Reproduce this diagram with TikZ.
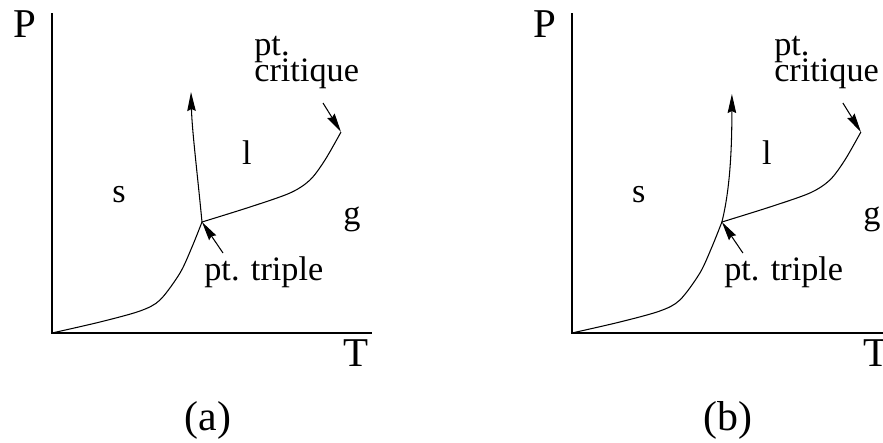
\documentclass[tikz,border=0pt]{standalone}
\usepackage{fontspec}
\setmainfont{LiberationSerif}[Extension=.ttf,UprightFont=*-Regular]
\usetikzlibrary{arrows.meta}
\tikzset{
  axisline/.style={line width=1.2pt,draw=black},
  phaseline/.style={line width=0.6pt,draw=black},
  phasearrow/.style={-{Stealth[length=0.38cm,width=0.17cm,inset=0.04cm]},
    line width=0.6pt,draw=black},
  axislabel/.style={font=\fontsize{23.3}{26}\selectfont,inner sep=0pt},
  phaselabel/.style={font=\fontsize{19.5}{22}\selectfont,inner sep=0pt},
  captionlabel/.style={font=\fontsize{23.8}{26}\selectfont,inner sep=0pt},
}

\begin{document}
\begin{tikzpicture}[x=0.02cm,y=-0.02cm]
  \useasboundingbox (0,0) rectangle (883,443);
  \clip (0,0) rectangle (883,443);
  % (a)
  \coordinate (a-top) at (52,13);
  \coordinate (a-O) at (52,333);
  \coordinate (a-end) at (372,333);
  \coordinate (a-tp) at (202,222);
  \coordinate (a-cp) at (341,132);
  \coordinate (a-melt) at (191,92);
  \coordinate (a-tpfrom) at (223,253);
  \coordinate (a-cpfrom) at (323,103);
  \draw[axisline] (a-top) -- (a-O) -- (a-end);
  \node[axislabel] (a-P) at (25,24) {P};
  \node[axislabel] (a-T) at (356,353) {T};
  \draw[phaseline] plot[smooth] coordinates
    {(a-O) (100,322) (140,311) (160,300) (180,273) (192,247) (a-tp)};
  \draw[phaseline] plot[smooth] coordinates
    {(a-tp) (250,207) (290,193) (310,180) (325,160) (a-cp)};
  \draw[phasearrow] (a-tp) .. controls (197,170) and (192,130) .. (a-melt);
  \draw[phasearrow] (a-tpfrom) -- (a-tp);
  \draw[phasearrow] (a-cpfrom) -- (a-cp);
  \node[phaselabel] (a-s) at (119,195) {s};
  \node[phaselabel] (a-l) at (247,153) {l};
  \node[phaselabel] (a-g) at (352,219) {g};
  \node[phaselabel,anchor=base west] (a-triple) at (204,280) {pt. triple};
  \node[phaselabel,anchor=base west] (a-pt) at (254,55) {pt.};
  \node[phaselabel,anchor=base west] (a-crit) at (254,81) {critique};
  \node[captionlabel] (a-cap) at (208,420) {(a)};
  % (b)
  \begin{scope}[xshift=10.4cm]
  \coordinate (b-top) at (52,13);
  \coordinate (b-O) at (52,333);
  \coordinate (b-end) at (372,333);
  \coordinate (b-tp) at (202,222);
  \coordinate (b-cp) at (341,132);
  \coordinate (b-melt) at (212,94);
  \coordinate (b-tpfrom) at (223,253);
  \coordinate (b-cpfrom) at (323,103);
  \draw[axisline] (b-top) -- (b-O) -- (b-end);
  \node[axislabel] (b-P) at (25,24) {P};
  \node[axislabel] (b-T) at (356,353) {T};
  \draw[phaseline] plot[smooth] coordinates
    {(b-O) (100,322) (140,311) (160,300) (180,273) (192,247) (b-tp)};
  \draw[phaseline] plot[smooth] coordinates
    {(b-tp) (250,207) (290,193) (310,180) (325,160) (b-cp)};
  \draw[phasearrow] (b-tp) .. controls (210,190) and (212,150) .. (b-melt);
  \draw[phasearrow] (b-tpfrom) -- (b-tp);
  \draw[phasearrow] (b-cpfrom) -- (b-cp);
  \node[phaselabel] (b-s) at (119,195) {s};
  \node[phaselabel] (b-l) at (247,153) {l};
  \node[phaselabel] (b-g) at (352,219) {g};
  \node[phaselabel,anchor=base west] (b-triple) at (204,280) {pt. triple};
  \node[phaselabel,anchor=base west] (b-pt) at (254,55) {pt.};
  \node[phaselabel,anchor=base west] (b-crit) at (254,81) {critique};
  \node[captionlabel] (b-cap) at (208,420) {(b)};
  \end{scope}
\end{tikzpicture}
\end{document}
